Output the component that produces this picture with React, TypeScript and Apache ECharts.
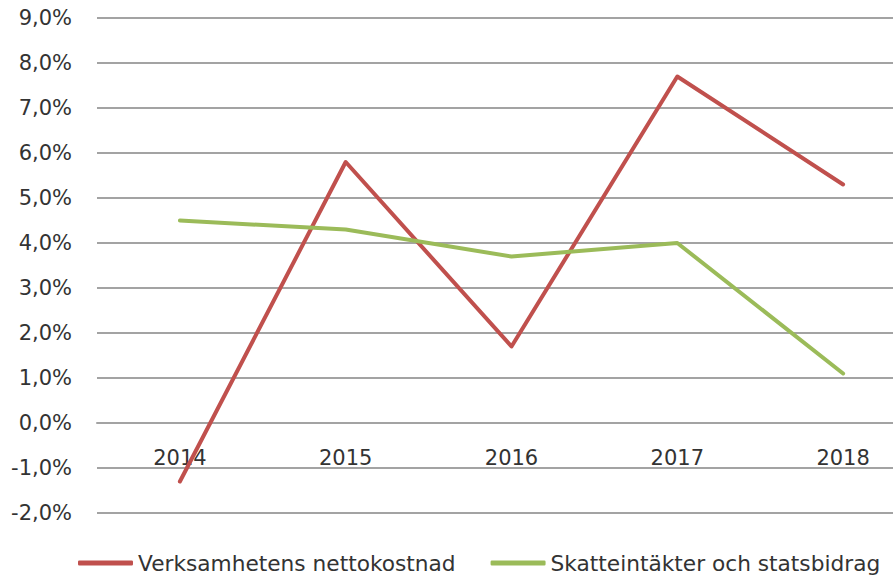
import React, { useEffect, useRef } from "react";
import * as echarts from "echarts";

const categories = ["2014", "2015", "2016", "2017", "2018"];
const nettokostnad = [-1.3, 5.8, 1.7, 7.7, 5.3];
const skatteintakter = [4.5, 4.3, 3.7, 4.0, 1.1];
const seriesNames = ["Verksamhetens nettokostnad", "Skatteintäkter och statsbidrag"];
const yMin = -2;
const yMax = 9;
const yStep = 1;

const FONT = "DejaVu Sans";
const TEXT = "#333333";
const GRID = "#a3a3a3";
const PLOT_HEIGHT = 495;

export default function App() {
  const ref = useRef<HTMLDivElement>(null);
  useEffect(() => {
    document.body.style.margin = "0";
    if (!ref.current) return;
    const chart = echarts.init(ref.current, undefined, { renderer: "svg" });
    // distance from the bottom of the plot to the zero line
    const zeroOffset = (PLOT_HEIGHT * (0 - yMin)) / (yMax - yMin);
    chart.setOption({
      animation: false,
      backgroundColor: "#ffffff",
      grid: { left: 97, top: 18, width: 829, height: PLOT_HEIGHT, containLabel: false },
      legend: {
        left: 78,
        top: 552,
        padding: 0,
        itemGap: 35,
        itemWidth: 55,
        itemHeight: 5,
        icon: "roundRect",
        textStyle: { fontFamily: FONT, fontSize: 21.7, color: TEXT },
        data: seriesNames,
      },
      xAxis: {
        type: "category",
        data: categories,
        boundaryGap: true,
        offset: -zeroOffset,
        axisLine: { show: true, onZero: false, lineStyle: { color: GRID, width: 2 } },
        axisTick: { show: false },
        axisLabel: {
          margin: 24,
          fontFamily: FONT,
          fontSize: 21,
          color: TEXT,
        },
      },
      yAxis: {
        type: "value",
        min: yMin,
        max: yMax,
        interval: yStep,
        axisLine: { show: false },
        axisTick: { show: false },
        splitLine: { lineStyle: { color: GRID, width: 2 } },
        axisLabel: {
          margin: 25,
          fontFamily: FONT,
          fontSize: 21,
          color: TEXT,
          formatter: (v: number) => v.toFixed(1).replace(".", ",") + "%",
        },
      },
      series: [
        {
          name: seriesNames[0],
          type: "line",
          data: nettokostnad,
          symbol: "none",
          lineStyle: { color: "#C0504D", width: 4, join: "round", cap: "round" },
          itemStyle: { color: "#C0504D" },
          z: 3,
        },
        {
          name: seriesNames[1],
          type: "line",
          data: skatteintakter,
          symbol: "none",
          lineStyle: { color: "#9BBB59", width: 4, join: "round", cap: "round" },
          itemStyle: { color: "#9BBB59" },
          z: 4,
        },
      ],
    });
    return () => chart.dispose();
  }, []);
  return (
    <div style={{ position: "absolute", left: 0, top: 0, width: 893, height: 578, overflow: "hidden" }}>
      <div ref={ref} style={{ width: 930, height: 578 }} />
    </div>
  );
}
